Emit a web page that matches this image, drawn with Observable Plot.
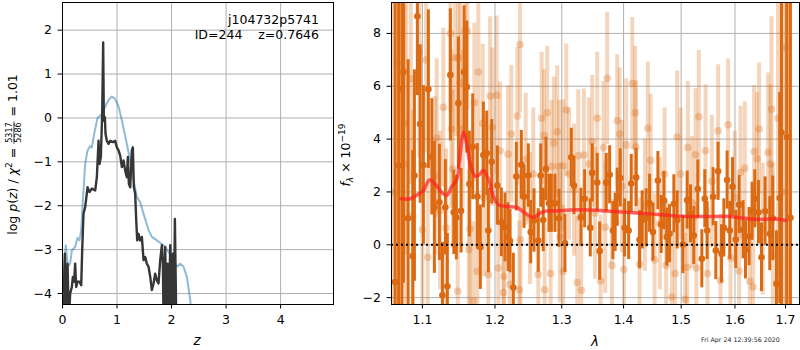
<!DOCTYPE html>
<html>
<head>
<meta charset="utf-8">
<script src="https://cdn.jsdelivr.net/npm/d3@7"></script>
<script src="https://cdn.jsdelivr.net/npm/@observablehq/plot@0.6"></script>
<style>
  html, body { margin: 0; padding: 0; background: white; }
  #wrap { position: relative; width: 800px; height: 350px; font-family: 'DejaVu Sans', sans-serif; overflow: hidden; }
  #left, #right, #over { position: absolute; top: 0; }
  #left { left: 0; }
  #right { left: 340px; }
  #over { left: 0; pointer-events: none; }
  text { white-space: pre; }
</style>
</head>
<body>
<div id="wrap">
  <div id="left"></div>
  <div id="right"></div>
  <svg id="over" width="800" height="350"></svg>
</div>
<script>
// ---------------- LEFT PANEL DATA: log p(z) ----------------
const zTicks = [0, 1, 2, 3, 4];
const logpTicks = [-4, -3, -2, -1, 0, 1, 2];

const blueZ = [0.018,0.06,0.098,0.14,0.171,0.232,0.275,0.31,0.343,0.373,0.416,0.459,0.508,0.538,0.581,0.642,0.722,0.783,0.844,0.905,0.966,1.028,1.089,1.168,1.242,1.303,1.364,1.425,1.486,1.578,1.639,1.731,1.853,1.945,2.037,2.098,2.159,2.22,2.281,2.343,2.36];
const blueLogp = [-3.62,-2.90,-3.39,-3.32,-3.02,-2.94,-2.73,-2.79,-2.56,-1.88,-1.05,-0.74,-0.64,-0.67,-0.36,0.0,0.09,0.26,0.41,0.49,0.43,0.26,-0.06,-0.52,-0.97,-1.42,-1.80,-1.92,-2.18,-2.56,-2.71,-2.79,-2.90,-3.05,-3.24,-3.39,-3.32,-3.39,-3.62,-4.15,-4.45];

const blackZ = [0.012,0.043,0.067,0.092,0.116,0.141,0.171,0.19,0.214,0.232,0.251,0.275,0.312,0.343,0.361,0.385,0.416,0.459,0.495,0.538,0.6,0.63,0.661,0.679,0.703,0.728,0.746,0.758,0.777,0.789,0.813,0.844,0.875,0.924,0.966,0.997,1.028,1.058,1.089,1.119,1.15,1.18,1.199,1.217,1.242,1.272,1.29,1.309,1.333,1.352,1.37,1.394,1.425,1.456,1.486,1.517,1.547,1.578,1.609,1.639,1.67,1.7,1.731,1.761,1.792,1.823,1.841,1.853,1.884,1.902,1.927,1.951,1.976,2.0,2.024,2.043,2.061,2.086,2.1];
const blackLogp = [-4.6,-3.09,-4.6,-3.32,-4.6,-4.0,-3.85,-3.62,-3.73,-3.32,-3.85,-3.73,-3.73,-3.81,-3.02,-2.18,-2.03,-1.58,-1.69,-1.61,-1.65,-1.35,-0.52,-1.05,-0.89,0.09,1.72,-0.06,0.02,-0.36,-0.52,-0.59,-0.52,-0.55,-0.52,-0.67,-0.74,-0.86,-1.12,-0.97,-1.2,-1.35,-0.89,-1.5,-1.58,-0.74,-0.67,-1.58,-1.73,-2.33,-2.79,-2.64,-2.79,-2.71,-3.24,-3.17,-3.32,-3.39,-3.62,-3.92,-3.77,-3.55,-3.7,-3.77,-3.24,-2.9,-3.32,-4.6,-2.94,-4.6,-3.32,-4.6,-2.9,-4.6,-3.09,-4.6,-2.3,-4.6,-5.0];

// ---------------- RIGHT PANEL DATA: spectrum ----------------
const lamTicks = [1.1, 1.2, 1.3, 1.4, 1.5, 1.6, 1.7];
const fluxTicks = [-2, 0, 2, 4, 6, 8];
const zeroLevel = [0];

const darkWave = [1.0646,1.0691,1.0732,1.0753,1.0813,1.0874,1.0895,1.0934,1.0970,1.1013,1.1079,1.1125,1.1159,1.1226,1.1267,1.1307,1.1334,1.1375,1.1422,1.1457,1.1485,1.1522,1.1563,1.1601,1.1637,1.1684,1.1749,1.1791,1.1834,1.1882,1.1905,1.1953,1.2034,1.2092,1.2145,1.2189,1.2218,1.2267,1.2311,1.2385,1.2425,1.2489,1.2525,1.2574,1.2639,1.2676,1.2715,1.2756,1.2802,1.2838,1.2895,1.2957,1.3050,1.3149,1.3192,1.3303,1.3362,1.3452,1.3484,1.3565,1.3604,1.3712,1.3768,1.3822,1.3860,1.3894,1.3944,1.4017,1.4085,1.4129,1.4213,1.4271,1.4316,1.4385,1.4443,1.4501,1.4588,1.4645,1.4693,1.4746,1.4794,1.4870,1.4929,1.5031,1.5109,1.5170,1.5230,1.5303,1.5377,1.5432,1.5475,1.5586,1.5637,1.5680,1.5744,1.5788,1.5850,1.5901,1.5953,1.6016,1.6079,1.6157,1.6203,1.6273,1.6332,1.6385,1.6457,1.6517,1.6588,1.6682,1.6742,1.6816,1.6882,1.6917,1.7031,1.7100];
const darkFlux = [-1.41,3.0,5.89,6.54,1.0,-0.43,2.62,8.65,4.57,3.02,5.89,3.33,1.42,1.61,-1.91,1.42,-1.57,6.43,1.23,1.03,5.36,1.29,6.54,5.97,2.30,3.71,1.83,-0.09,3.40,3.46,0.54,3.14,2.24,0.85,0.66,0.29,0.14,-1.62,2.58,3.03,1.82,2.62,0.48,0.92,0.16,2.62,0.94,2.87,1.57,1.57,1.57,1.0,0.06,3.31,2.24,1.04,1.74,0.64,2.72,2.36,-0.24,2.36,2.65,0.54,0.85,1.8,2.53,0.64,0.54,2.32,2.55,0.19,0.94,1.02,1.57,0.48,2.43,0.77,1.67,0.29,0.42,1.55,0.94,0.01,1.69,1.17,0.35,2.11,-0.53,1.74,0.54,1.82,-0.22,2.78,-0.34,0.64,2.45,0.54,2.2,0.2,1.52,0.57,-0.19,0.31,1.27,1.74,1.23,-0.47,1.27,0.42,1.0,-1.47,1.77,4.25,4.08,1.02];
const darkErr = [12,12,10,8,6,4,4,3,3,3,3,2.2,2.5,2.2,2,1.8,2,2.5,1.6,1.6,2.5,1.6,2.5,2.5,2,2,2,1.6,2,1.6,1.6,1.6,1.5,1.3,1.3,1.3,1.2,1.3,1.3,1.3,1.2,1.2,1.2,1.2,1.2,1.2,1.2,1.2,1.1,1.1,1.1,1.1,1.1,1.1,1.1,1.1,1.1,1.1,1.1,1.1,1.1,1.1,1.1,1.1,1.1,1.1,1.1,1.1,1.1,1.1,1.1,1.1,1.1,1.1,1.1,1.1,1.1,1.1,1.1,1.1,1.1,1.1,1.1,1.1,1.1,1.1,1.1,1.1,1.1,1.1,1.1,1.1,1.1,1.1,1.1,1.1,1.1,1.1,1.1,1.1,1.1,1.1,1.1,1.1,1.1,1.1,1.2,1.3,1.3,1.4,1.6,2,4,8,10,12];

const lightWave = [1.0621,1.0672,1.0765,1.0787,1.0848,1.0874,1.0961,1.1000,1.1049,1.1071,1.1169,1.1191,1.1236,1.1280,1.1317,1.1375,1.1389,1.1408,1.1439,1.1476,1.1485,1.1508,1.1545,1.1577,1.1609,1.1629,1.1647,1.1693,1.1707,1.1749,1.1763,1.1825,1.1844,1.1905,1.1929,1.1962,1.2025,1.2048,1.2073,1.2121,1.2131,1.2189,1.2214,1.2237,1.2326,1.2355,1.2365,1.2371,1.2450,1.2514,1.2564,1.2639,1.2691,1.2726,1.2737,1.2776,1.2828,1.2844,1.2879,1.2930,1.2957,1.2972,1.3019,1.3023,1.3070,1.3113,1.3192,1.3244,1.3260,1.3307,1.3350,1.3431,1.3484,1.3528,1.3565,1.3620,1.3669,1.3695,1.3728,1.3806,1.3894,1.3934,1.3972,1.4006,1.4044,1.4146,1.4196,1.4208,1.4271,1.4362,1.4414,1.4461,1.4530,1.4623,1.4705,1.4733,1.4834,1.4893,1.4929,1.4990,1.5072,1.5109,1.5121,1.5194,1.5261,1.5276,1.5322,1.5445,1.5482,1.5562,1.5680,1.5725,1.5869,1.5915,1.5997,1.6079,1.6106,1.6190,1.6286,1.6351,1.6371,1.6430,1.6469,1.6542,1.6648,1.6696,1.6716,1.6742,1.6848,1.6944,1.7005];
const lightFlux = [2.0,6.87,3.06,4.6,6.28,1.1,7.3,0.57,7.0,-0.47,2.6,4.04,1.3,5.2,0.63,8.0,4.38,2.87,7.08,-1.76,7.08,6.14,4.38,8.09,8.09,-0.18,0.6,-2.13,5.38,-1.0,6.54,4.59,1.8,-1.12,5.63,4.45,5.66,-0.88,3.56,-1.81,-1.2,3.43,-1.5,4.19,4.87,-1.7,7.58,0.19,3.24,1.0,2.68,-1.12,4.79,4.14,-1.7,5.0,-1.09,2.97,3.85,4.28,2.97,0.3,2.99,-1.0,5.1,2.68,2.07,-1.43,3.37,-1.72,3.40,3.06,3.91,1.2,4.79,-1.37,3.68,0.66,6.3,-0.78,4.69,4.19,2.2,-0.94,3.78,6.1,5.0,3.71,-0.73,1.5,4.41,3.2,-0.57,0.8,2.68,-0.78,-1.98,-1.09,4.08,2.68,-2.06,-0.85,3.68,1.6,3.41,-0.88,4.85,3.56,-1.09,2.4,4.31,-1.35,4.54,-0.49,1.8,-1.0,2.74,2.9,-1.38,-1.6,3.53,3.25,4.38,0.6,3.5,3.06,5.13,-0.4,4.79,2.0,7.46];
const lightErr = [10,10,6,5,4,4,4,4,3.5,3.5,3,3,3,3,3,3,3,3,3,3,3,3,3,3,3,3,3,3,3,3,3,3,3,3,3,3,3,2.6,2.6,2.6,2.6,2.6,2.6,2.6,2.6,2.6,2.6,2.6,2.5,2.5,2.5,2.5,2.5,2.5,2.5,2.5,2.5,2.5,2.5,2.5,2.5,2.5,2.5,2.5,2.5,2.5,2.5,2.5,2.5,2.5,2.5,2.5,2.5,2.5,2.5,2.5,2.5,2.5,2.5,2.5,2.5,2.5,2.5,2.5,2.5,2.5,2.5,2.5,2.5,2.5,2.5,2.5,2.5,2.5,2.5,2.5,2.5,2.5,2.5,2.5,2.5,2.5,2.5,2.5,2.5,2.5,2.5,2.5,2.5,2.5,2.5,2.5,2.5,2.5,2.5,2.5,2.5,2.5,2.5,2.5,2.5,2.5,2.5,2.5,3,3,3.5,3.5,6,10,10];

const modelWave = [1.0723,1.0839,1.0927,1.1013,1.1093,1.1169,1.1259,1.1326,1.1394,1.1463,1.1508,1.1554,1.1601,1.1646,1.1717,1.1777,1.1834,1.1905,1.1976,1.2048,1.2170,1.2317,1.2414,1.2514,1.2575,1.2665,1.2767,1.2921,1.3128,1.3447,1.3772,1.4106,1.4448,1.4798,1.5157,1.5524,1.5900,1.6093,1.6286,1.6548,1.6817,1.7000];
const modelFlux = [1.74,1.74,1.88,2.05,2.45,2.30,1.98,1.87,2.20,2.48,3.40,4.25,3.80,3.10,2.60,2.65,2.82,2.50,1.85,1.52,1.45,1.42,1.25,1.08,1.04,1.20,1.28,1.28,1.32,1.32,1.27,1.22,1.17,1.11,1.07,1.07,1.07,1.02,0.98,0.97,0.98,0.92];

// ---------------- TEXTS ----------------
const objName = "j104732p5741";
const objInfo = "ID=244    z=0.7646";
const chi2Num = "5317", chi2Den = "5286", chi2Val = "1.01";
const stamp = "Fri Apr 24 12:39:56 2020";

// ---------------- build tables ----------------
const blue = blueZ.map((z, i) => ({z, v: blueLogp[i]}));
const black = blackZ.map((z, i) => ({z, v: blackLogp[i]}));
const dark = darkWave.map((w, i) => ({w, f: darkFlux[i], e: darkErr[i]}));
const light = lightWave.map((w, i) => ({w, f: lightFlux[i], e: lightErr[i]}));
const model = modelWave.map((w, i) => ({w, f: modelFlux[i]}));

const fmt = d => (d < 0 ? "\u2212" + Math.abs(d) : String(d));
const font = "'DejaVu Sans', sans-serif";
const grid = {stroke: "#b0b0b0", strokeOpacity: 1, strokeWidth: 1};
const orange = "#db6a13";

const leftPlot = Plot.plot({
  width: 340, height: 350,
  marginLeft: 62, marginRight: 7, marginTop: 2, marginBottom: 46,
  style: {fontFamily: font, fontSize: "12.5px", color: "black", background: "transparent"},
  x: {domain: [0, 4.97], label: null},
  y: {domain: [-4.25, 2.63], label: null},
  marks: [
    Plot.gridX(zTicks, grid),
    Plot.gridY(logpTicks, grid),
    Plot.line(blue, {x: "z", y: "v", stroke: "#1f77b4", strokeOpacity: 0.5, strokeWidth: 2, clip: true}),
    Plot.line(black, {x: "z", y: "v", stroke: "#363636", strokeWidth: 2.4, clip: true}),
    Plot.frame({stroke: "black", strokeWidth: 1}),
    Plot.axisX({ticks: zTicks, tickSize: 4.5, tickPadding: 6, tickFormat: fmt, fontSize: 12.5, label: null}),
    Plot.axisY({ticks: logpTicks, tickSize: 4.5, tickPadding: 6, tickFormat: fmt, fontSize: 12.5, label: null})
  ]
});
document.getElementById("left").appendChild(leftPlot);

const rightPlot = Plot.plot({
  width: 460, height: 350,
  marginLeft: 51, marginRight: 1, marginTop: 2, marginBottom: 46,
  style: {fontFamily: font, fontSize: "12.5px", color: "black", background: "transparent"},
  x: {type: "log", domain: [1.06, 1.7287], label: null},
  y: {domain: [-2.26, 9.17], label: null},
  marks: [
    Plot.gridX(lamTicks, grid),
    Plot.gridY(fluxTicks, grid),
    Plot.ruleX(light, {x: "w", y1: d => d.f - d.e, y2: d => d.f + d.e, stroke: orange, strokeOpacity: 0.28, strokeWidth: 4, clip: true}),
    Plot.dot(light, {x: "w", y: "f", r: 3.8, fill: orange, fillOpacity: 0.3, stroke: "none", clip: true}),
    Plot.ruleX(dark, {x: "w", y1: d => d.f - d.e, y2: d => d.f + d.e, stroke: orange, strokeWidth: 3, clip: true}),
    Plot.dot(dark, {x: "w", y: "f", r: 3.3, fill: orange, stroke: "none", clip: true}),
    Plot.line(model, {x: "w", y: "f", stroke: "#ff2020", strokeOpacity: 0.7, strokeWidth: 3.5, curve: "catmull-rom", clip: true}),
    Plot.ruleY(zeroLevel, {y: d => d, stroke: "black", strokeWidth: 2, strokeDasharray: "2,3"}),
    Plot.frame({stroke: "black", strokeWidth: 1}),
    Plot.axisX({ticks: lamTicks, tickSize: 4.5, tickPadding: 6, tickFormat: d => d.toFixed(1), fontSize: 12.5, label: null}),
    Plot.axisY({ticks: fluxTicks, tickSize: 4.5, tickPadding: 6, tickFormat: fmt, fontSize: 12.5, label: null})
  ]
});
document.getElementById("right").appendChild(rightPlot);

// ---------------- overlay labels ----------------
const NS = "http://www.w3.org/2000/svg";
const over = document.getElementById("over");
function el(tag, attrs, parent, txt) {
  const e = document.createElementNS(NS, tag);
  for (const k in attrs) e.setAttribute(k, attrs[k]);
  if (txt != null) e.textContent = txt;
  parent.appendChild(e);
  return e;
}
const base = {"font-family": font, "fill": "black"};

// text inside left panel
el("text", {...base, "font-size": 12.5, x: 319, y: 24, "text-anchor": "end"}, over, objName);
el("text", {...base, "font-size": 12.5, x: 319, y: 38.5, "text-anchor": "end"}, over, objInfo);

// x labels
el("text", {...base, "font-size": 13.5, x: 197, y: 345, "text-anchor": "middle", "font-style": "italic"}, over, "z");
el("text", {...base, "font-size": 13.5, x: 595, y: 345.5, "text-anchor": "middle", "font-style": "italic"}, over, "\u03bb");

// timestamp
el("text", {...base, "font-size": 6.3, x: 701, y: 342, fill: "#222"}, over, stamp);

// left y label with fraction
{
  const g0 = el("g", {transform: "translate(16.5,154.5) rotate(-90)"}, over);
  const g = el("g", {}, g0);
  const t1 = el("text", {...base, "font-size": 12.5, x: 0, y: 0}, g);
  el("tspan", {}, t1, "log ");
  el("tspan", {"font-style": "italic"}, t1, "p");
  el("tspan", {}, t1, "(");
  el("tspan", {"font-style": "italic"}, t1, "z");
  el("tspan", {}, t1, ") / ");
  el("tspan", {"font-style": "italic"}, t1, "\u03c7");
  el("tspan", {"font-size": 9, dy: -5}, t1, "2");
  el("tspan", {dy: 5}, t1, " = ");
  const w1 = t1.getComputedTextLength();
  const n = el("text", {...base, "font-size": 8, y: -4.2}, g, chi2Num);
  const d = el("text", {...base, "font-size": 8, y: 4.8}, g, chi2Den);
  const fw = Math.max(n.getComputedTextLength(), d.getComputedTextLength());
  n.setAttribute("x", w1 + 1 + (fw - n.getComputedTextLength()) / 2);
  d.setAttribute("x", w1 + 1 + (fw - d.getComputedTextLength()) / 2);
  el("line", {x1: w1, x2: w1 + fw + 2, y1: -2.6, y2: -2.6, stroke: "black", "stroke-width": 0.7}, g);
  const t3 = el("text", {...base, "font-size": 12.5, x: w1 + fw + 3, y: 0}, g, " = " + chi2Val);
  const total = w1 + fw + 3 + t3.getComputedTextLength();
  g.setAttribute("transform", `translate(${-total / 2},0)`);
}

// right y label
{
  const g = el("g", {transform: "translate(349.5,155) rotate(-90)"}, over);
  const t = el("text", {...base, "font-size": 12.5, x: 0, y: 0, "text-anchor": "middle"}, g);
  el("tspan", {"font-style": "italic"}, t, "f");
  el("tspan", {"font-size": 9, dy: 3, "font-style": "italic"}, t, "\u03bb");
  el("tspan", {dy: -3}, t, " \u00d7 10");
  el("tspan", {"font-size": 9, dy: -5}, t, "\u221219");
}
</script>
</body>
</html>
